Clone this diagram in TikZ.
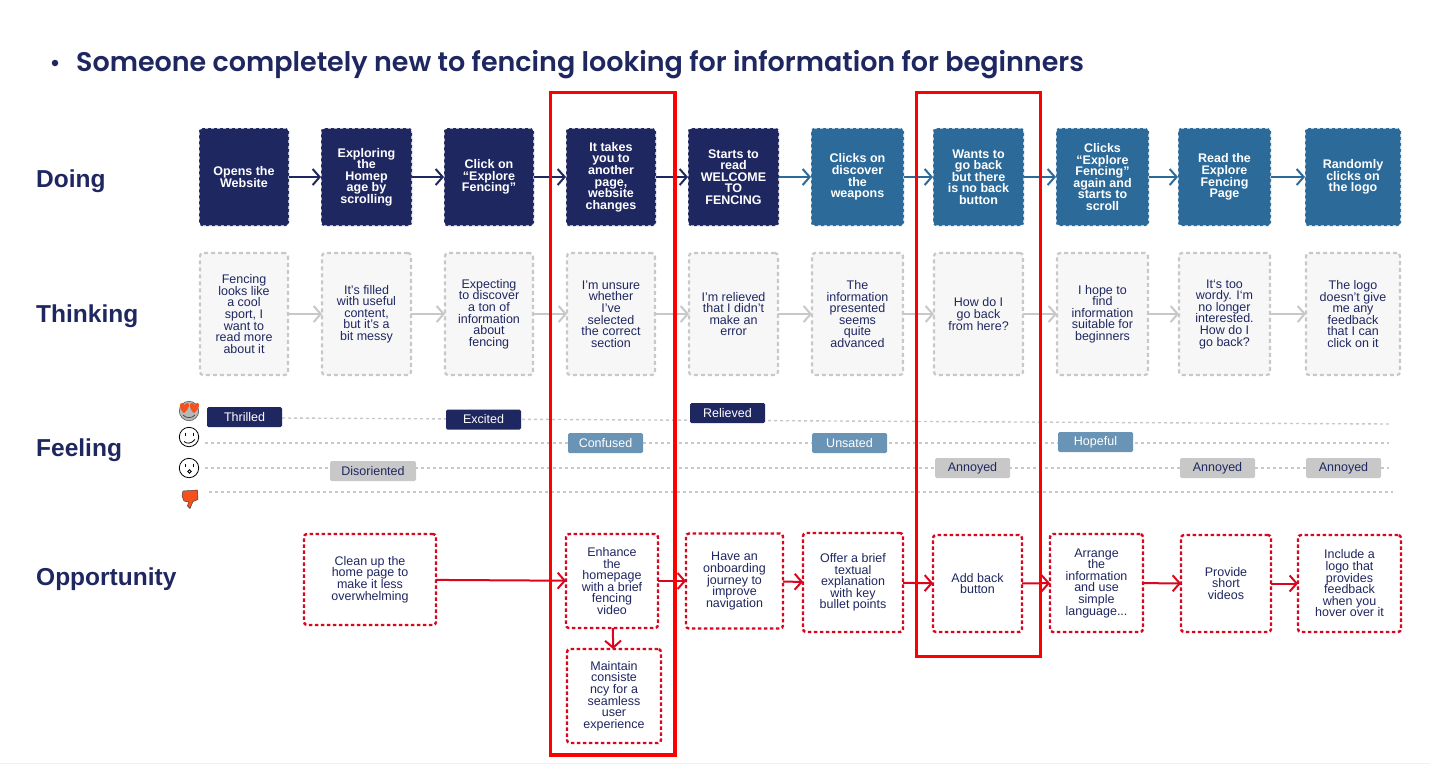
\documentclass[tikz,border=0pt]{standalone}
\usepackage{fontspec}
\setmainfont{Liberation Sans}
\newfontfamily\titlefont{Poppins SemiBold}
\usetikzlibrary{arrows.meta,positioning,shapes.geometric}
\definecolor{navy}{HTML}{1F2761}
\definecolor{steel}{HTML}{2B6A99}
\definecolor{paleblue}{HTML}{6A94B5}
\definecolor{ashgray}{HTML}{C8C8C8}
\definecolor{paper}{HTML}{F7F7F7}
\definecolor{oppred}{HTML}{D9061F}
\definecolor{emoji}{HTML}{F4511E}
\newcommand{\boxfont}{\fontsize{12.5}{11.6}\selectfont\lineskiplimit=-10pt\relax}

\begin{document}
\begin{tikzpicture}[
    x=1pt, y=-1pt,
    node distance=32pt,
    boxtext/.style={font=\boxfont, align=center, inner sep=0pt, outer sep=0pt, rounded corners=3pt},
    doing/.style={boxtext, fill=navy, draw=white, dashed, line width=1.2pt, text=white, minimum height=98pt, font=\boxfont\bfseries},
    doingb/.style={doing, fill=steel},
    thinking/.style={boxtext, fill=paper, draw=ashgray, dash pattern=on 4pt off 3pt, line width=2.2pt, text=navy, minimum height=122pt},
    opp/.style={boxtext, fill=white, draw=oppred, dash pattern=on 3.5pt off 2.5pt, line width=2.4pt, text=navy},
    heading/.style={font=\fontsize{24.5}{28}\selectfont\bfseries, text=navy, anchor=west, inner sep=0pt},
    mood/.style={font=\fontsize{12.5}{14}\selectfont, minimum width=75pt, minimum height=20pt, inner sep=0pt, outer sep=0pt, rounded corners=1.5pt},
    moodhigh/.style={mood, fill=navy, text=white},
    moodmid/.style={mood, fill=paleblue, text=white},
    moodlow/.style={mood, fill=ashgray, text=navy},
    moodline/.style={ashgray, dashed, line width=1.4pt},
    arrow/.style={-{Straight Barb[length=7pt, width=16pt]}, line width=2pt},
    framebox/.style={draw=red, line width=3.6pt}
]
    \useasboundingbox (0,0) rectangle (1430,764);
    \fill[white] (0,0) rectangle (1430,764);
    \draw[black!6] (0,763) -- (1430,763);

    \node[anchor=west, inner sep=0pt, text=navy, font=\fontsize{26.95}{32}\titlefont] (title)
        at (76,65) {Someone completely new to fencing looking for information for beginners};
    \node[circle, fill=navy, inner sep=0pt, minimum size=6.5pt] (bullet) at (55,63) {};

    \node[heading] (doinglabel) at (36,181) {Doing};
    \node[heading] (thinkinglabel) at (36,316) {Thinking};
    \node[heading] (feelinglabel) at (36,450) {Feeling};
    \node[heading] (opplabel) at (36,579) {Opportunity};

    % doing
    \node[doing, minimum width=90pt] (d1) at (244,177) {Opens the\\Website};
    \node[doing, minimum width=91pt, right=of d1] (d2) {Exploring\\the\\Homep\\age by\\scrolling};
    \node[doing, minimum width=90pt, right=of d2] (d3) {Click on\\“Explore\\Fencing”};
    \node[doing, minimum width=90pt, right=of d3] (d4) {It takes\\you to\\another\\page,\\website\\changes};
    \node[doing, minimum width=91pt, right=of d4] (d5) {Starts to\\read\\WELCOME\\TO\\FENCING};
    \node[doingb, minimum width=93pt, right=of d5] (d6) {Clicks on\\discover\\the\\weapons};
    \node[doingb, minimum width=91pt, right=29pt of d6] (d7) {Wants to\\go back\\but there\\is no back\\button};
    \node[doingb, minimum width=93pt, right=of d7] (d8) {Clicks\\“Explore\\Fencing”\\again and\\starts to\\scroll};
    \node[doingb, minimum width=93pt, right=29pt of d8] (d9) {Read the\\Explore\\Fencing\\Page};
    \node[doingb, minimum width=96pt, right=34pt of d9] (d10) {Randomly\\clicks on\\the logo};

    \draw[arrow, navy] (d1) -- (d2);
    \draw[arrow, navy] (d2) -- (d3);
    \draw[arrow, navy] (d3) -- (d4);
    \draw[arrow, navy] (d4) -- (d5);
    \draw[arrow, steel] (d5) -- (d6);
    \draw[arrow, steel] (d6) -- (d7);
    \draw[arrow, steel] (d7) -- (d8);
    \draw[arrow, steel] (d8) -- (d9);
    \draw[arrow, steel] (d9) -- (d10);

    % thinking
    \node[thinking, minimum width=88pt] (t1) at (244,314) {Fencing\\looks like\\a cool\\sport, I\\want to\\read more\\about it};
    \node[thinking, minimum width=89pt, right=34pt of t1] (t2) {It's filled\\with useful\\content,\\but it's a\\bit messy};
    \node[thinking, minimum width=88pt, right=34pt of t2] (t3) {Expecting\\to discover\\a ton of\\information\\about\\fencing};
    \node[thinking, minimum width=88pt, right=34pt of t3] (t4) {I'm unsure\\whether\\I've\\selected\\the correct\\section};
    \node[thinking, minimum width=89pt, right=34pt of t4] (t5) {I'm relieved\\that I didn't\\make an\\error};
    \node[thinking, minimum width=91pt, right=34pt of t5] (t6) {The\\information\\presented\\seems\\quite\\advanced};
    \node[thinking, minimum width=89pt, right=31pt of t6] (t7) {How do I\\go back\\from here?};
    \node[thinking, minimum width=91pt, right=34pt of t7] (t8) {I hope to\\find\\information\\suitable for\\beginners};
    \node[thinking, minimum width=91pt, right=31pt of t8] (t9) {It`s too\\wordy. I`m\\no longer\\interested.\\How do I\\go back?};
    \node[thinking, minimum width=94pt, right=36pt of t9] (t10) {The logo\\doesn't give\\me any\\feedback\\that I can\\click on it};

    \draw[arrow, ashgray] (t1) -- (t2);
    \draw[arrow, ashgray] (t2) -- (t3);
    \draw[arrow, ashgray] (t3) -- (t4);
    \draw[arrow, ashgray] (t4) -- (t5);
    \draw[arrow, ashgray] (t5) -- (t6);
    \draw[arrow, ashgray] (t6) -- (t7);
    \draw[arrow, ashgray] (t7) -- (t8);
    \draw[arrow, ashgray] (t8) -- (t9);
    \draw[arrow, ashgray] (t9) -- (t10);

    % feeling
    \coordinate (f1a) at (282,418);
    \coordinate (f1b) at (1389,424);
    \coordinate (f2a) at (205,443);
    \coordinate (f2b) at (1389,443);
    \coordinate (f3a) at (205,468);
    \coordinate (f3b) at (1389,468);
    \coordinate (f4a) at (209,492);
    \coordinate (f4b) at (1393,492);
    \draw[moodline] (f1a) -- (f1b);
    \draw[moodline] (f2a) -- (f2b);
    \draw[moodline] (f3a) -- (f3b);
    \draw[moodline] (f4a) -- (f4b);

    \node[moodhigh] (thrilled) at (244.5,417) {Thrilled};
    \node[moodhigh] (excited) at (483.5,419.5) {Excited};
    \node[moodhigh] (relieved) at (727.5,413) {Relieved};
    \node[moodmid] (confused) at (605.5,443) {Confused};
    \node[moodmid] (unsated) at (849.5,443) {Unsated};
    \node[moodmid] (hopeful) at (1095.5,442) {Hopeful};
    \node[moodlow, minimum width=86pt] (disoriented) at (373,471) {Disoriented};
    \node[moodlow] (annoyeda) at (972.5,468) {Annoyed};
    \node[moodlow] (annoyedb) at (1217.5,468) {Annoyed};
    \node[moodlow] (annoyedc) at (1343.5,468) {Annoyed};

    % faces
    \fill[black!28, draw=black!65, line width=0.6pt] (189,411) circle (9.7);
    \fill[emoji] (184,413) .. controls (178,408) and (179.5,403) .. (182,403) .. controls (183,403) and (184,404) .. (184.5,405) .. controls (185,404) and (186.5,403) .. (187.5,403) .. controls (190,403) and (190,408) .. (184,413) -- cycle;
    \fill[emoji] (194,413) .. controls (188,408) and (189.5,403) .. (192,403) .. controls (193,403) and (194,404) .. (194.5,405) .. controls (195,404) and (196.5,403) .. (197.5,403) .. controls (200,403) and (200,408) .. (194,413) -- cycle;
    \draw[black!75, line width=0.7pt] (183,415) .. controls (186,418.5) and (192,418.5) .. (195,415);
    \draw[black, line width=0.8pt] (189,437) circle (9.7);
    \draw[black, line width=0.8pt] (185,432.5) -- (185,435.5) (193,432.5) -- (193,435.5);
    \draw[black, line width=0.8pt] (184,441.5) .. controls (187,444) and (191,444) .. (195,439.5);
    \draw[black, line width=0.8pt] (189,468) circle (9.7);
    \draw[black, line width=0.8pt] (185,463.5) -- (185,466.5) (193,463.5) -- (193,466.5);
    \draw[black, line width=0.8pt] (189.5,471.5) circle (1.7);
    \fill[emoji, draw=black!80, line width=0.4pt] (183,491) -- (197.5,490) -- (198,499.5) -- (193,501.5) -- (190,508.5) -- (187.5,506) -- (188.5,502) -- (184,501) -- (182,496) -- cycle;

    % opportunity
    \node[opp, minimum width=132pt, minimum height=91pt] (o1) at (370,579.5) {Clean up the\\home page to\\make it less\\overwhelming};
    \node[opp, minimum width=92pt, minimum height=94pt] (o2) at (612,581) {Enhance\\the\\homepage\\with a brief\\fencing\\video};
    \node[opp, minimum width=97pt, minimum height=95pt, right=28pt of o2] (o3) {Have an\\onboarding\\journey to\\improve\\navigation};
    \node[opp, minimum width=100pt, minimum height=99pt] (o4) at (853,582.5) {Offer a brief\\textual\\explanation\\with key\\bullet points};
    \node[opp, minimum width=89pt, minimum height=97pt] (o5) at (977.5,583.5) {Add back\\button};
    \node[opp, minimum width=93pt, minimum height=98pt] (o6) at (1096.5,583) {Arrange\\the\\information\\and use\\simple\\language...};
    \node[opp, minimum width=90pt, minimum height=97pt] (o7) at (1226,583.5) {Provide\\short\\videos};
    \node[opp, minimum width=103pt, minimum height=97pt] (o8) at (1349.5,583.5) {Include a\\logo that\\provides\\feedback\\when you\\hover over it};
    \node[opp, minimum width=94pt, minimum height=94pt] (o9) at (614,696) {Maintain\\consiste\\ncy for a\\seamless\\user\\experience};

    \draw[arrow, oppred] (o1) -- (o2);
    \draw[arrow, oppred] (o2) -- (o3);
    \draw[arrow, oppred] (o3) -- (o4);
    \draw[arrow, oppred] (o4) -- (o5);
    \draw[arrow, oppred] (o5) -- (o6);
    \draw[arrow, oppred] (o6) -- (o7);
    \draw[arrow, oppred] (o7) -- (o8);
    \draw[arrow, oppred] (o2) -- (o9);

    % highlights
    \draw[framebox] (550.5,92.5) rectangle (675,755);
    \draw[framebox] (916.5,92.5) rectangle (1040.5,656.5);
\end{tikzpicture}
\end{document}
